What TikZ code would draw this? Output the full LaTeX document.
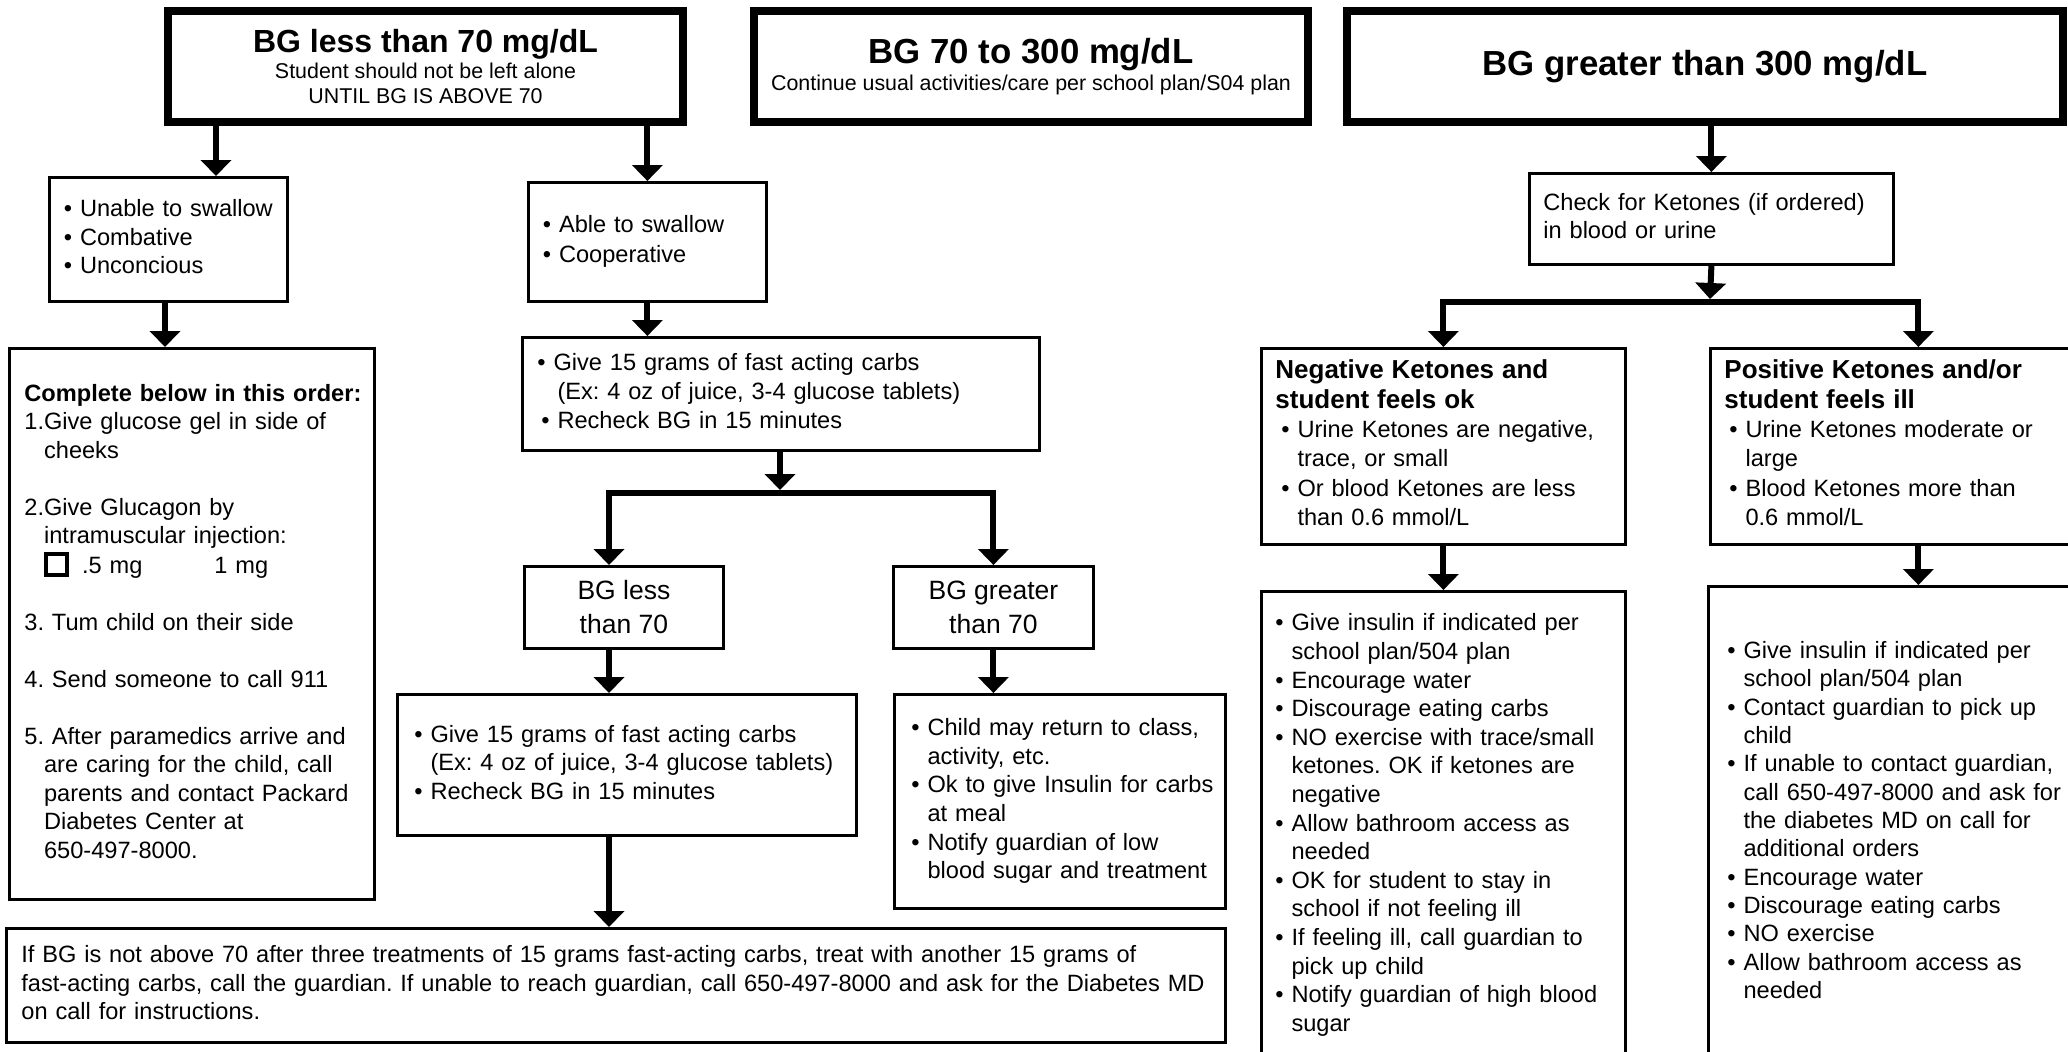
\documentclass[tikz,border=0pt]{standalone}
\usepackage{fontspec}
\setmainfont{Liberation Sans}
\usetikzlibrary{arrows.meta}
\frenchspacing
\newcommand\bul{•\ }
\newcommand\ind{\phantom{•\ }}
\newcommand\ttl{\fontsize{13}{15}\selectfont\bfseries}
\newcommand\chk{{\setlength\fboxrule{2pt}\setlength\fboxsep{0pt}\fbox{\rule{0pt}{8.5pt}\rule{8.5pt}{0pt}}}}
\newcommand\bodyfs[1]{\fontsize{11.8}{#1}\selectfont}
\newenvironment{txl}{\noindent\begin{tabular}{@{}l@{}}}{\end{tabular}}
\tikzset{
  hdr/.style={draw, line width=4pt, anchor=north west, inner sep=0pt, align=center,
    font=\fontsize{10.7}{12.5}\selectfont},
  box/.style={draw, line width=1.4pt, anchor=north west, inner ysep=0pt, align=left,
    font=\bodyfs{14.25}},
  mid/.style={draw, line width=1.4pt, anchor=north west, inner sep=0pt, align=center,
    font=\fontsize{13.25}{17}\selectfont},
  arr/.style={line width=3pt, -{Triangle[length=8pt,width=15pt]}},
}
\begin{document}
\begin{tikzpicture}[x=0.5pt,y=-0.5pt]
\useasboundingbox (0,0) rectangle (2068,1051);
\fill[white] (0,0) rectangle (2068,1051);
\clip (0,0) rectangle (2068,1051);

% headers
\node[hdr, minimum width=257.5pt, minimum height=55.5pt] (A) at (164,7)
  {{\fontsize{16}{18}\selectfont\bfseries BG less than 70 mg/dL}\\[0.5pt]
   Student should not be left alone\\ UNTIL BG IS ABOVE 70};
\node[hdr, minimum width=277pt, minimum height=55.5pt] (B) at (750,7)
  {{\fontsize{17.4}{19}\selectfont\bfseries BG 70 to 300 mg/dL}\\[1pt]
   Continue usual activities/care per school plan/S04 plan};
\node[hdr, minimum width=358pt, minimum height=55.5pt] (C) at (1343,7)
  {{\fontsize{17.4}{19}\selectfont\bfseries BG greater than 300 mg/dL}};

% left column
\node[box, minimum width=119pt, minimum height=62pt, inner xsep=7.25pt, text width=104.5pt] (unable) at (48,176)
  {\begin{txl}\bul Unable to swallow\\ \bul Combative\\ \bul Unconcious\end{txl}};
\node[box, minimum width=182.5pt, minimum height=275.5pt, inner xsep=7.5pt, text width=167.5pt] (complete) at (8,347)
  {\begin{txl}
   \textbf{Complete below in this order:}\\
   1.Give glucose gel in side of\\
   \phantom{1.}cheeks\\[14.25pt]
   2.Give Glucagon by\\
   \phantom{1.}intramuscular injection:\\
   \phantom{1.}\chk\hspace{6.5pt}.5 mg\hspace{36pt}1 mg\\[14.25pt]
   3. Tum child on their side\\[14.25pt]
   4. Send someone to call 911\\[14.25pt]
   5. After paramedics arrive and\\
   \phantom{1.}are caring for the child, call\\
   \phantom{1.}parents and contact Packard\\
   \phantom{1.}Diabetes Center at\\
   \phantom{1.}650-497-8000.
   \end{txl}};

% middle column
\node[box, font=\bodyfs{15}, minimum width=119pt, minimum height=59.5pt, inner xsep=7.25pt, text width=104.5pt] (able) at (527,181)
  {\begin{txl}\bul Able to swallow\\ \bul Cooperative\end{txl}};
\node[box, font=\bodyfs{14.5}, minimum width=258.5pt, minimum height=56.5pt, inner xsep=7.5pt, text width=243.5pt] (carbs) at (521,336)
  {\begin{txl}\bul Give 15 grams of fast acting carbs\\
   \hspace*{2pt}\ind(Ex: 4 oz of juice, 3-4 glucose tablets)\\
   \hspace*{2pt}\bul Recheck BG in 15 minutes\end{txl}};
\node[mid, minimum width=99.5pt, minimum height=41pt] (bgless) at (523,565) {BG less\\ than 70};
\node[mid, minimum width=100pt, minimum height=41pt] (bggreater) at (892,565) {BG greater\\ than 70};
\node[box, minimum width=229.5pt, minimum height=70.5pt, inner xsep=8.5pt, text width=212.5pt] (carbsb) at (396,693)
  {\begin{txl}\bul Give 15 grams of fast acting carbs\\
   \ind(Ex: 4 oz of juice, 3-4 glucose tablets)\\
   \bul Recheck BG in 15 minutes\end{txl}};
\node[box, font=\bodyfs{14.3}, minimum width=165.5pt, minimum height=107pt, inner xsep=8.5pt, text width=148.5pt] (child) at (893,693)
  {\begin{txl}\bul Child may return to class,\\ \ind activity, etc.\\
   \bul Ok to give Insulin for carbs\\ \ind at meal\\
   \bul Notify guardian of low\\ \ind blood sugar and treatment\end{txl}};
\node[box, font=\bodyfs{14.2}, minimum width=609.5pt, minimum height=57pt, inner xsep=7.5pt, text width=594.5pt] (bottom) at (5,927)
  {\begin{txl}If BG is not above 70 after three treatments of 15 grams fast-acting carbs, treat with another 15 grams of\\
   fast-acting carbs, call the guardian. If unable to reach guardian, call 650-497-8000 and ask for the Diabetes MD\\
   on call for instructions.\end{txl}};

% right column
\node[box, font=\bodyfs{14}, minimum width=182pt, minimum height=45.5pt, inner xsep=7pt, text width=168pt] (check) at (1528,172)
  {\begin{txl}Check for Ketones (if ordered)\\ in blood or urine\end{txl}};
\node[box, font=\bodyfs{14.7}, minimum width=182pt, minimum height=98pt, inner xsep=7pt, text width=168pt] (neg) at (1260,347)
  {\begin{txl}{\ttl Negative Ketones and}\\ {\ttl student feels ok}\\
   \hspace*{3pt}\bul Urine Ketones are negative,\\ \hspace*{3pt}\ind trace, or small\\
   \hspace*{3pt}\bul Or blood Ketones are less\\ \hspace*{3pt}\ind than 0.6 mmol/L\end{txl}};
\node[box, font=\bodyfs{14.7}, minimum width=208pt, minimum height=98pt, inner xsep=7pt, text width=194pt] (pos) at (1709,347)
  {\begin{txl}{\ttl Positive Ketones and/or}\\ {\ttl student feels ill}\\
   \hspace*{2.5pt}\bul Urine Ketones moderate or\\ \hspace*{2.5pt}\ind large\\
   \hspace*{2.5pt}\bul Blood Ketones more than\\ \hspace*{2.5pt}\ind 0.6 mmol/L\end{txl}};
\node[box, font=\bodyfs{14.3}, minimum width=182pt, minimum height=234pt, inner xsep=7pt, text width=168pt] (negact) at (1260,590)
  {\begin{txl}\bul Give insulin if indicated per\\ \ind school plan/504 plan\\
   \bul Encourage water\\ \bul Discourage eating carbs\\
   \bul NO exercise with trace/small\\ \ind ketones. OK if ketones are\\ \ind negative\\
   \bul Allow bathroom access as\\ \ind needed\\
   \bul OK for student to stay in\\ \ind school if not feeling ill\\
   \bul If feeling ill, call guardian to\\ \ind pick up child\\
   \bul Notify guardian of high blood\\ \ind sugar\end{txl}};
\node[box, font=\bodyfs{14.17}, minimum width=209pt, minimum height=236.5pt, inner xsep=9.5pt, text width=190pt] (posact) at (1707,585)
  {\begin{txl}\bul Give insulin if indicated per\\ \ind school plan/504 plan\\
   \bul Contact guardian to pick up\\ \ind child\\
   \bul If unable to contact guardian,\\ \ind call 650-497-8000 and ask for\\
   \ind the diabetes MD on call for\\ \ind additional orders\\
   \bul Encourage water\\ \bul Discourage eating carbs\\ \bul NO exercise\\
   \bul Allow bathroom access as\\ \ind needed\end{txl}};

% helper coordinates
\coordinate (xA1) at (216,0);
\coordinate (xU) at (165,0);
\coordinate (xL) at (609,0);
\coordinate (j1) at (780,493);
\coordinate (j2) at (1710,302);

% connectors
\draw[arr] (A.south -| xA1) -- (xA1 |- unable.north);
\draw[arr] (A.south -| able.north) -- (able.north);
\draw[arr] (unable.south -| xU) -- (xU |- complete.north);
\draw[arr] (able.south) -- (able.south |- carbs.north);
\draw[arr] (carbs.south -| j1) -- ([yshift=1.5pt]j1);
\draw[arr] (j1) -- (xL |- j1) -- (xL |- bgless.north);
\draw[arr] (j1) -- (bggreater.north |- j1) -- (bggreater.north);
\draw[arr] (xL |- bgless.south) -- (xL |- carbsb.north);
\draw[arr] (bggreater.south) -- (bggreater.south |- child.north);
\draw[arr] (xL |- carbsb.south) -- (xL |- bottom.north);
\draw[arr] (check.north |- C.south) -- (check.north);
\draw[arr] (check.south) -- ([yshift=1.5pt]j2);
\draw[arr] (j2) -- (neg.north |- j2) -- (neg.north);
\draw[arr] (j2) -- (pos.north |- j2) -- (pos.north);
\draw[arr] (neg.south) -- (negact.north);
\draw[arr] (pos.south) -- (pos.south |- posact.north);
\end{tikzpicture}
\end{document}
